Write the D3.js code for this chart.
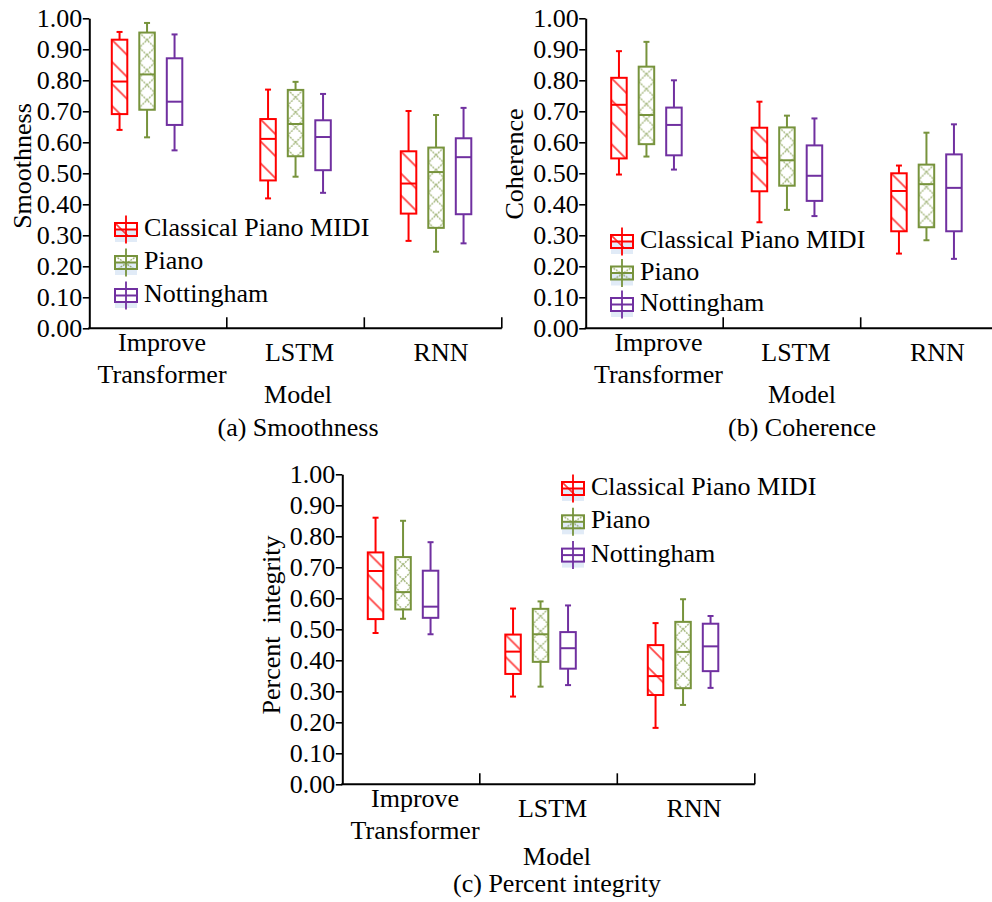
<!DOCTYPE html>
<html>
<head>
<meta charset="utf-8">
<script src="https://cdn.jsdelivr.net/npm/d3@7"></script>
<style>
  body { margin: 0; background: #fff; }
  svg text { font-family: "Liberation Serif", "Times New Roman", serif; fill: #000; }
</style>
</head>
<body>
<svg id="chart" width="992" height="902"></svg>
<script>
// ---- data ----------------------------------------------------------------
const models = ["Improve Transformer", "LSTM", "RNN"];
const modelLines = [["Improve", "Transformer"], ["LSTM"], ["RNN"]];
const seriesNames = ["Classical Piano MIDI", "Piano", "Nottingham"];
const seriesColors = ["#ff0000", "#77933c", "#7030a0"];
const yTickValues = [0, 0.1, 0.2, 0.3, 0.4, 0.5, 0.6, 0.7, 0.8, 0.9, 1.0];

// five-number summaries per model: [low whisker, Q1, median, Q3, high whisker]
const smoothnessMIDI       = [[0.640, 0.691, 0.796, 0.931, 0.956], [0.419, 0.477, 0.611, 0.675, 0.770], [0.282, 0.370, 0.467, 0.571, 0.701]];
const smoothnessPiano      = [[0.616, 0.705, 0.819, 0.954, 0.985], [0.489, 0.555, 0.659, 0.769, 0.795], [0.247, 0.324, 0.504, 0.583, 0.688]];
const smoothnessNottingham = [[0.574, 0.656, 0.731, 0.871, 0.948], [0.437, 0.510, 0.617, 0.671, 0.756], [0.274, 0.368, 0.552, 0.613, 0.711]];

const coherenceMIDI        = [[0.496, 0.548, 0.721, 0.808, 0.894], [0.342, 0.442, 0.550, 0.647, 0.731], [0.241, 0.313, 0.443, 0.500, 0.525]];
const coherencePiano       = [[0.554, 0.594, 0.688, 0.844, 0.924], [0.382, 0.460, 0.542, 0.648, 0.686], [0.284, 0.326, 0.465, 0.528, 0.631]];
const coherenceNottingham  = [[0.512, 0.558, 0.656, 0.712, 0.800], [0.362, 0.411, 0.492, 0.590, 0.677], [0.224, 0.313, 0.453, 0.561, 0.658]];

const integrityMIDI        = [[0.488, 0.533, 0.688, 0.748, 0.860], [0.283, 0.356, 0.428, 0.483, 0.567], [0.182, 0.288, 0.349, 0.449, 0.520]];
const integrityPiano       = [[0.534, 0.564, 0.620, 0.733, 0.850], [0.315, 0.395, 0.484, 0.566, 0.590], [0.256, 0.310, 0.427, 0.524, 0.597]];
const integrityNottingham  = [[0.484, 0.537, 0.573, 0.689, 0.781], [0.320, 0.373, 0.439, 0.491, 0.577], [0.311, 0.365, 0.445, 0.518, 0.543]];

// ---- layout ----------------------------------------------------------------
const panels = [
  { id: "a", yTitle: "Smoothness", caption: "(a) Smoothness",
    data: [smoothnessMIDI, smoothnessPiano, smoothnessNottingham],
    x0: 89.3, top: 18.3, bottom: 328.3, groupShift: [-11, 0, 3],
    legend: { cx: 126, y: 236, step: 33 }, yTitlePos: { x: 31, y: 166 },
    titleX: 298, modelDy: 75, captionDy: 108 },
  { id: "b", yTitle: "Coherence", caption: "(b) Coherence",
    data: [coherenceMIDI, coherencePiano, coherenceNottingham],
    x0: 585.7, top: 18.3, bottom: 328.3, groupShift: [-8, -5, -3],
    legend: { cx: 622, y: 248, step: 31.5 }, yTitlePos: { x: 523, y: 164 },
    titleX: 802, modelDy: 75, captionDy: 107.5 },
  { id: "c", yTitle: "Percent  integrity", caption: "(c) Percent integrity",
    data: [integrityMIDI, integrityPiano, integrityNottingham],
    x0: 342.3, top: 474.3, bottom: 784.3, groupShift: [-8, -8, -3],
    legend: { cx: 573, y: 495, step: 33.3 }, yTitlePos: { x: 280, y: 625 },
    titleX: 557, modelDy: 81, captionDy: 107.5 }
];
const axisWidth = 412.5;
const boxWidth = 15.5;
const capWidth = 6;
const labelShift = [4, 4, 8];
const fontSize = 26;

const svg = d3.select("#chart");
const defs = svg.append("defs");

// hatch fills: diagonal for MIDI, cross-hatch for Piano, plain for Nottingham
function makePattern(id, seriesIdx, x, y, w) {
  const color = seriesColors[seriesIdx];
  if (seriesIdx === 0) {
    const s = 22;
    const p = defs.append("pattern").attr("id", id)
      .attr("patternUnits", "userSpaceOnUse")
      .attr("x", x).attr("y", y).attr("width", s).attr("height", s);
    p.append("path").attr("d", `M0,0L${s},${s}M${-s / 2},${s / 2}L${s / 2},${s * 1.5}M${s / 2},${-s / 2}L${s * 1.5},${s / 2}`)
      .attr("stroke", color).attr("stroke-opacity", 0.75).attr("stroke-width", 1.7);
    return true;
  }
  if (seriesIdx === 1) {
    const h = 15;
    const p = defs.append("pattern").attr("id", id)
      .attr("patternUnits", "userSpaceOnUse")
      .attr("x", x).attr("y", y).attr("width", w).attr("height", h);
    p.append("path").attr("d", `M0,0L${w},${h}M${w},0L0,${h}`)
      .attr("stroke", color).attr("stroke-opacity", 0.7).attr("stroke-width", 1.4)
      .attr("stroke-dasharray", "2,1");
    return true;
  }
  return false;
}

panels.forEach(P => {
  const g = svg.append("g");
  const y = d3.scaleLinear().domain([0, 1]).range([P.bottom, P.top]);
  const x = d3.scaleBand().domain(models).range([P.x0, P.x0 + axisWidth]);
  const xs = d3.scaleBand().domain(seriesNames).range([-41.25, 41.25]);

  // y axis
  const yAxis = g.append("g").attr("transform", `translate(${P.x0},0)`)
    .call(d3.axisLeft(y).tickValues(yTickValues).tickFormat(d3.format(".2f"))
      .tickSize(6.5).tickSizeOuter(0).tickPadding(0.5));
  yAxis.attr("font-family", null);
  yAxis.select(".domain").attr("stroke", "#000").attr("stroke-width", 2);
  yAxis.selectAll(".tick line").attr("stroke", "#000").attr("stroke-width", 1.6);
  yAxis.selectAll(".tick text").attr("font-size", fontSize).attr("dy", "0.33em");

  // x axis with dividers between model groups
  g.append("line").attr("x1", P.x0 - 1).attr("x2", P.x0 + axisWidth)
    .attr("y1", P.bottom).attr("y2", P.bottom)
    .attr("stroke", "#000").attr("stroke-width", 2);
  models.forEach(m => {
    const bx = x(m) + x.bandwidth();
    g.append("line").attr("x1", bx).attr("x2", bx)
      .attr("y1", P.bottom).attr("y2", P.bottom - 11)
      .attr("stroke", "#000").attr("stroke-width", 1.6);
  });

  // category labels
  models.forEach((m, i) => {
    const cx = x(m) + x.bandwidth() / 2 + labelShift[i];
    const lines = modelLines[i];
    const t = g.append("text").attr("text-anchor", "middle").attr("font-size", fontSize);
    if (lines.length === 2) {
      t.append("tspan").attr("x", cx).attr("y", P.bottom + 23).text(lines[0]);
      t.append("tspan").attr("x", cx).attr("y", P.bottom + 54.5).text(lines[1]);
    } else {
      t.append("tspan").attr("x", cx).attr("y", P.bottom + 33).text(lines[0]);
    }
  });

  // axis titles and caption
  g.append("text").attr("text-anchor", "middle").attr("font-size", fontSize)
    .attr("x", P.titleX).attr("y", P.bottom + P.modelDy).text("Model");
  g.append("text").attr("text-anchor", "middle").attr("font-size", fontSize)
    .attr("x", P.titleX).attr("y", P.bottom + P.captionDy).text(P.caption);
  g.append("text").attr("text-anchor", "middle").attr("font-size", fontSize)
    .style("white-space", "pre")
    .attr("transform", `translate(${P.yTitlePos.x},${P.yTitlePos.y}) rotate(-90)`)
    .text(P.yTitle);

  // boxes
  P.data.forEach((seriesData, si) => {
    const color = seriesColors[si];
    seriesData.forEach((st, mi) => {
      const [lo, q1, med, q3, hi] = st;
      const cx = x(models[mi]) + x.bandwidth() / 2 + xs(seriesNames[si]) + xs.bandwidth() / 2 + P.groupShift[mi];
      const bx = cx - boxWidth / 2;
      const bg = g.append("g");
      // whiskers
      bg.append("line").attr("x1", cx).attr("x2", cx).attr("y1", y(hi)).attr("y2", y(q3))
        .attr("stroke", color).attr("stroke-width", 2);
      bg.append("line").attr("x1", cx).attr("x2", cx).attr("y1", y(q1)).attr("y2", y(lo))
        .attr("stroke", color).attr("stroke-width", 2);
      [hi, lo].forEach(v => bg.append("line")
        .attr("x1", cx - capWidth / 2).attr("x2", cx + capWidth / 2)
        .attr("y1", y(v)).attr("y2", y(v))
        .attr("stroke", color).attr("stroke-width", 2));
      // box with fill pattern
      const pid = `pat-${P.id}-${si}-${mi}`;
      const hasPat = makePattern(pid, si, bx, y(q3), boxWidth);
      bg.append("rect").attr("x", bx).attr("y", y(q3))
        .attr("width", boxWidth).attr("height", y(q1) - y(q3))
        .attr("fill", hasPat ? `url(#${pid})` : "none")
        .attr("stroke", color).attr("stroke-width", 2);
      bg.append("line").attr("x1", bx).attr("x2", bx + boxWidth)
        .attr("y1", y(med)).attr("y2", y(med))
        .attr("stroke", color).attr("stroke-width", 2);
    });
  });

  // legend
  seriesNames.forEach((name, si) => {
    const color = seriesColors[si];
    const base = P.legend.y + si * P.legend.step;
    const cy = base - 6.5;
    const cx = P.legend.cx;
    const w = 22, h = 13;
    const lg = g.append("g");
    lg.append("rect").attr("x", cx - w / 2).attr("y", cy - h / 2 + 6)
      .attr("width", w).attr("height", h).attr("fill", "#d9e6f5").attr("opacity", 0.8);
    lg.append("line").attr("x1", cx).attr("x2", cx).attr("y1", cy - 14).attr("y2", cy + 14)
      .attr("stroke", color).attr("stroke-width", 1.8);
    const pid = `leg-${P.id}-${si}`;
    const hasPat = makePattern(pid, si, cx - w / 2, cy - h / 2, w);
    lg.append("rect").attr("x", cx - w / 2).attr("y", cy - h / 2).attr("width", w).attr("height", h)
      .attr("fill", hasPat ? `url(#${pid})` : "#fff")
      .attr("stroke", color).attr("stroke-width", 2);
    lg.append("line").attr("x1", cx - w / 2).attr("x2", cx + w / 2).attr("y1", cy).attr("y2", cy)
      .attr("stroke", color).attr("stroke-width", 2);
    if (si === 2) {
      lg.append("line").attr("x1", cx).attr("x2", cx).attr("y1", cy - h / 2).attr("y2", cy + h / 2)
        .attr("stroke", color).attr("stroke-width", 1.8);
    }
    lg.append("text").attr("x", cx + 18).attr("y", base).attr("font-size", fontSize).text(name);
  });
});
</script>
</body>
</html>
